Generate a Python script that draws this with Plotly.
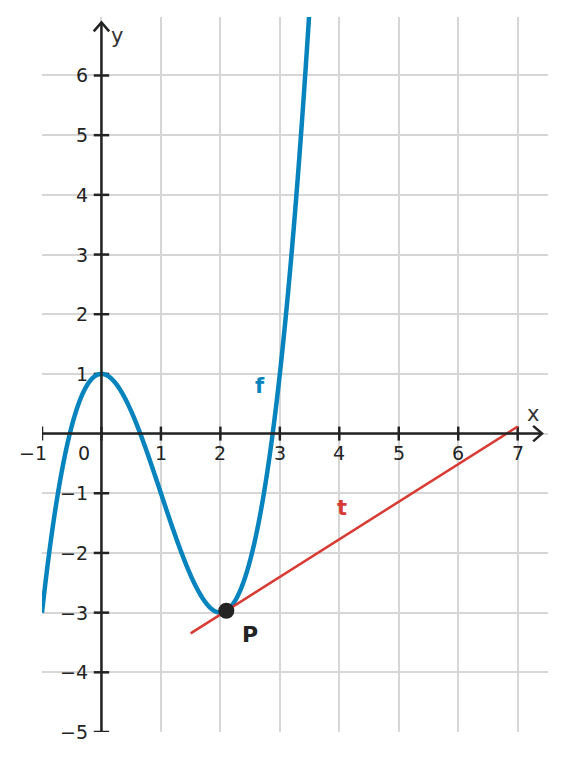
import numpy as np
import plotly.graph_objects as go

# ---- data ----
f_coeffs = [1, -3, 0, 1]          # f(x) = x^3 - 3x^2 + 1
f_domain = [-1.0, 3.6]
p_x = 2.1                         # point of tangency P
t_domain = [1.5, 7.0]             # tangent segment x-range
x_ticks = [-1, 1, 2, 3, 4, 5, 6, 7]
y_ticks = [-5, -4, -3, -2, -1, 1, 2, 3, 4, 5, 6]
x_range = [-1.0, 7.51]
y_range = [-5.0, 6.98]

BLUE = "#0784bd"
RED = "#d83b33"
DARK = "#232323"
GRID = "#d6d6d6"
FONT = "DejaVu Sans"

poly = np.poly1d(f_coeffs)
dpoly = poly.deriv()
fx = np.linspace(f_domain[0], f_domain[1], 600)
fy = poly(fx)
p_y = float(poly(p_x))
slope = float(dpoly(p_x))
tx = np.array(t_domain)
ty = p_y + slope * (tx - p_x)

fig = go.Figure()

# axes lines
fig.add_shape(type="line", x0=-1, y0=0, x1=7.40, y1=0, line=dict(color=DARK, width=2.5), layer="above")
fig.add_shape(type="line", x0=0, y0=-5, x1=0, y1=6.88, line=dict(color=DARK, width=2.5), layer="above")
# open chevron arrowheads
fig.add_shape(type="path", path="M 7.26,0.13 L 7.41,0 L 7.26,-0.13", line=dict(color=DARK, width=2.5), layer="above")
fig.add_shape(type="path", path="M -0.13,6.74 L 0,6.89 L 0.13,6.74", line=dict(color=DARK, width=2.5), layer="above")

# ticks
fig.add_trace(go.Scatter(x=x_ticks + [0], y=[0] * (len(x_ticks) + 1), mode="markers",
                         marker=dict(symbol="line-ns", size=10, line=dict(color=DARK, width=2.5)),
                         hoverinfo="skip", showlegend=False))
fig.add_trace(go.Scatter(x=[0] * len(y_ticks), y=y_ticks, mode="markers",
                         marker=dict(symbol="line-ew", size=11, line=dict(color=DARK, width=2.5)),
                         hoverinfo="skip", showlegend=False))

# function f
fig.add_trace(go.Scatter(x=fx, y=fy, mode="lines", line=dict(color=BLUE, width=4.5, simplify=False),
                         hoverinfo="skip", showlegend=False))
# tangent t
fig.add_trace(go.Scatter(x=tx, y=ty, mode="lines", line=dict(color=RED, width=2.5),
                         hoverinfo="skip", showlegend=False))
# point P
fig.add_trace(go.Scatter(x=[p_x], y=[p_y], mode="markers",
                         marker=dict(color=DARK, size=16, line=dict(width=0)),
                         hoverinfo="skip", showlegend=False))

ann = []
for v in x_ticks:
    lab = str(v).replace("-", "\u2212")
    ann.append(dict(x=v, y=0, text=lab, showarrow=False, xanchor="center", yanchor="middle",
                    xshift=-9 if v < 0 else 0, yshift=-19, font=dict(size=19, color=DARK, family=FONT)))
ann.append(dict(x=0, y=0, text="0", showarrow=False, xanchor="center", yanchor="middle",
                xshift=-17, yshift=-19, font=dict(size=19, color=DARK, family=FONT)))
for v in y_ticks:
    lab = str(v).replace("-", "\u2212")
    ann.append(dict(x=0, y=v, text=lab, showarrow=False, xanchor="right", yanchor="middle",
                    xshift=-11, yshift=0, font=dict(size=19, color=DARK, family=FONT)))
ann.append(dict(x=7.26, y=0.32, text="x", showarrow=False, font=dict(size=21, color="#333333", family=FONT)))
ann.append(dict(x=0.26, y=6.67, text="y", showarrow=False, font=dict(size=21, color="#333333", family=FONT)))
ann.append(dict(x=2.66, y=0.80, text="<b>f</b>", showarrow=False, font=dict(size=21, color=BLUE, family=FONT)))
ann.append(dict(x=4.05, y=-1.24, text="<b>t</b>", showarrow=False, font=dict(size=21, color=RED, family=FONT)))
ann.append(dict(x=2.49, y=-3.37, text="<b>P</b>", showarrow=False, font=dict(size=22, color=DARK, family=FONT)))

# page body has an 8px default margin; compensate so the plot area lands where the reference has it
fig.update_layout(
    width=558, height=753,
    margin=dict(l=34, r=18, t=9, b=29, pad=0),
    paper_bgcolor="white", plot_bgcolor="white",
    showlegend=False,
    annotations=ann,
    xaxis=dict(range=x_range, tickvals=list(range(-1, 8)), showticklabels=False,
               showgrid=True, gridcolor=GRID, gridwidth=1.5, zeroline=False, showline=False, fixedrange=True),
    yaxis=dict(range=y_range, tickvals=list(range(-5, 7)), showticklabels=False,
               showgrid=True, gridcolor=GRID, gridwidth=1.5, zeroline=False, showline=False, fixedrange=True),
)

fig.write_html("out.html")
